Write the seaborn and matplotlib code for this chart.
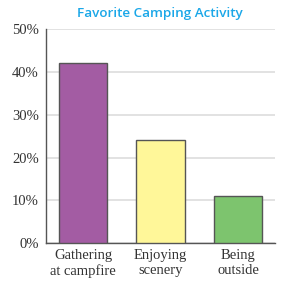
import pandas as pd
import seaborn as sns
import matplotlib.pyplot as plt

activities = ["Gathering\nat campfire", "Enjoying\nscenery", "Being\noutside"]
percents = [42, 24, 11]
bar_colors = ["#A35CA3", "#FFF799", "#7DC46E"]
y_ticks = [0, 10, 20, 30, 40, 50]
y_labels = ["0%", "10%", "20%", "30%", "40%", "50%"]

df = pd.DataFrame({"activity": activities, "percent": percents})

sns.set_style("white")
plt.rcParams["font.family"] = ["Liberation Serif", "DejaVu Serif"]

fig = plt.figure(figsize=(3.02, 2.83), dpi=100)
ax = fig.add_axes([0.152, 0.141, 0.759, 0.756])

sns.barplot(data=df, x="activity", y="percent", hue="activity", palette=bar_colors,
            legend=False, width=0.63, edgecolor="#555555", linewidth=1.0,
            saturation=1, ax=ax, zorder=3)

ax.set_ylim(0, 50)
ax.set_xlim(-0.48, 2.48)
ax.set_yticks(y_ticks)
ax.set_yticklabels(y_labels, fontsize=10.5, color="#333333")
ax.tick_params(axis="x", labelsize=10.5, colors="#333333", length=0, pad=4)
ax.tick_params(axis="y", length=3, color="#aaccee", pad=2)
ax.grid(axis="y", color="#dddddd", linewidth=1.2, zorder=0)
ax.set_axisbelow(True)
ax.set_xlabel("")
ax.set_ylabel("")

for side in ["top", "right"]:
    ax.spines[side].set_visible(False)
for side in ["left", "bottom"]:
    ax.spines[side].set_color("#555555")
    ax.spines[side].set_linewidth(1.0)

fig.text(0.53, 0.953, "Favorite Camping Activity", ha="center", va="center",
         fontsize=9.7, fontweight="semibold", color="#1AA7E8", family="Open Sans")

fig.savefig("out.png", dpi=100)
